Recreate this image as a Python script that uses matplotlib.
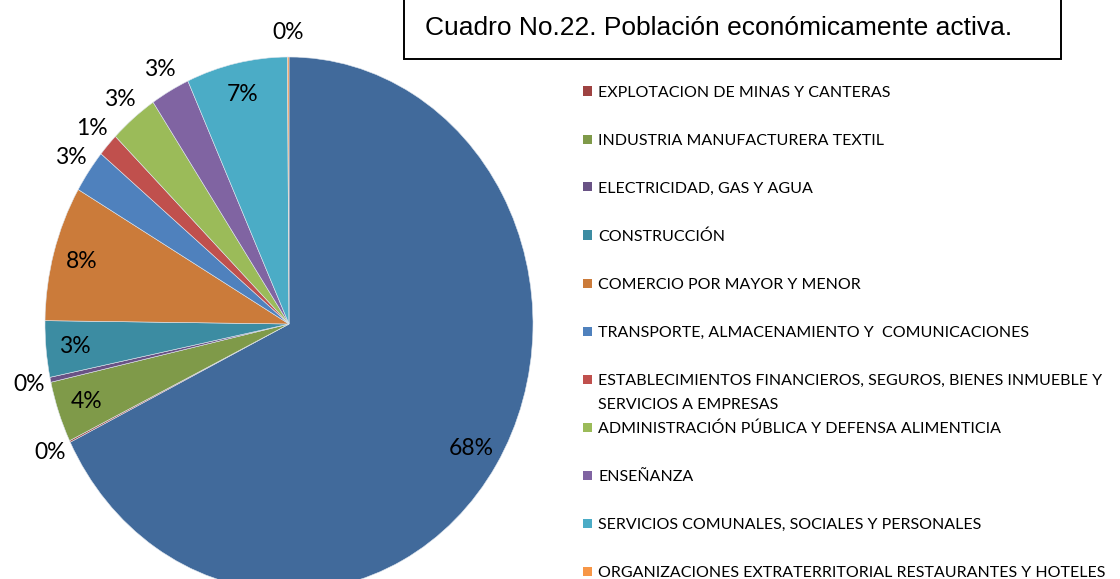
import matplotlib
matplotlib.use("Agg")
import matplotlib.pyplot as plt
from matplotlib.patches import Rectangle
import numpy as np

W, H = 1120, 579

categories = [
    "AGRICULTURA",
    "EXPLOTACION DE MINAS Y CANTERAS",
    "INDUSTRIA MANUFACTURERA TEXTIL",
    "ELECTRICIDAD, GAS Y AGUA",
    "CONSTRUCCIÓN",
    "COMERCIO POR MAYOR Y MENOR",
    "TRANSPORTE, ALMACENAMIENTO Y  COMUNICACIONES",
    "ESTABLECIMIENTOS FINANCIEROS, SEGUROS, BIENES INMUEBLE Y\nSERVICIOS A EMPRESAS",
    "ADMINISTRACIÓN PÚBLICA Y DEFENSA ALIMENTICIA",
    "ENSEÑANZA",
    "SERVICIOS COMUNALES, SOCIALES Y PERSONALES",
    "ORGANIZACIONES EXTRATERRITORIAL RESTAURANTES Y HOTELES",
]
values = [67.7, 0.1, 3.7, 0.3, 3.4, 8.2, 2.6, 1.4, 3.2, 2.6, 6.7, 0.1]
colors = ["#416A9B", "#9E4241", "#7F9A49", "#695285", "#3C8CA2", "#CB7B3A",
          "#4F81BD", "#C0504D", "#9BBB59", "#8064A2", "#4BACC6", "#F79646"]
title = "Cuadro No.22. Población económicamente activa."

fig = plt.figure(figsize=(W / 100, H / 100), dpi=100)
fig.patch.set_facecolor("white")

# pie axes (elliptical, as in the reference)
cx, cy, rx, ry = 289, 324, 244, 267
ax = fig.add_axes([(cx - rx) / W, (H - (cy + ry)) / H, 2 * rx / W, 2 * ry / H])
wedges, _ = ax.pie(values, colors=colors, startangle=90, counterclock=False,
                   radius=1, wedgeprops=dict(edgecolor="#dfe6ee", linewidth=0.4))
ax.set_aspect("auto")
ax.set_xlim(-1, 1)
ax.set_ylim(-1, 1)
ax.axis("off")

total = sum(values)
for w, v in zip(wedges, values):
    mid = np.deg2rad((w.theta1 + w.theta2) / 2)
    r = 0.88 if v >= 3.3 else 1.09
    ax.text(r * np.cos(mid), r * np.sin(mid), f"{100 * v / total:.0f}%",
            ha="center", va="center", fontsize=16.5, family="Lato",
            color="black", clip_on=False)

# legend (manual, evenly spaced rows as in the reference)
row0, step, line_gap = 91, 48.0, 24.0
for i in range(1, len(categories)):
    y = row0 + (i - 1) * step
    fig.patches.append(Rectangle((583 / W, 1 - (y + 4.5) / H), 9 / W, 9 / H,
                                 transform=fig.transFigure, facecolor=colors[i],
                                 edgecolor="none"))
    lines = categories[i].split("\n")
    for k, line in enumerate(lines):
        fig.text(598 / W, 1 - (y + 6 + k * line_gap) / H, line, ha="left",
                 va="baseline", fontsize=11.5, family="Lato", color="black")

# title box
fig.patches.append(Rectangle((404 / W, 1 - 59 / H), (1061 - 404) / W, 62 / H,
                             transform=fig.transFigure, facecolor="white",
                             edgecolor="black", linewidth=1.4, zorder=5))
fig.text(425 / W, 1 - 35 / H, title, ha="left", va="baseline", fontsize=19,
         family="Liberation Sans", color="black", zorder=6)

fig.savefig("out.png", dpi=100)
